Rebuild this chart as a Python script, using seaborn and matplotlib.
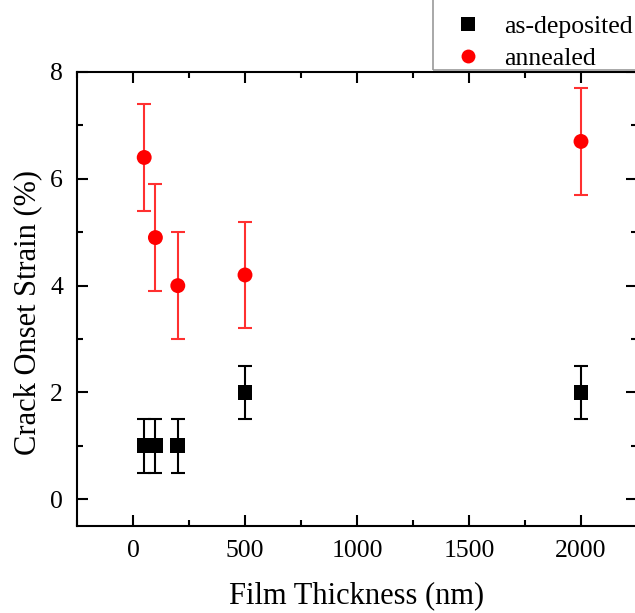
import numpy as np
import pandas as pd
import matplotlib
matplotlib.use("Agg")
import matplotlib.pyplot as plt
import seaborn as sns
from matplotlib.ticker import MultipleLocator
from matplotlib.patches import Rectangle

thickness = [50, 100, 200, 500, 2000]
as_dep = [1.0, 1.0, 1.0, 2.0, 2.0]
as_dep_err = [0.5, 0.5, 0.5, 0.5, 0.5]
annealed = [6.4, 4.9, 4.0, 4.2, 6.7]
annealed_err = [1.0, 1.0, 1.0, 1.0, 1.0]
labels = ["as-deposited", "annealed"]

sns.set_theme(style="ticks")
plt.rcParams['font.family'] = ['Liberation Serif', 'DejaVu Serif']
plt.rcParams['text.color'] = 'black'
plt.rcParams['axes.labelcolor'] = 'black'
plt.rcParams['xtick.color'] = 'black'
plt.rcParams['ytick.color'] = 'black'

df = pd.DataFrame({
    "Film Thickness (nm)": thickness * 2,
    "strain": as_dep + annealed,
    "err": as_dep_err + annealed_err,
    "state": [labels[0]] * len(thickness) + [labels[1]] * len(thickness),
})

fig = plt.figure(figsize=(6.35, 6.13), dpi=100)
ax = fig.add_axes([77/635, 1-526/613, (637-77)/635, (526-72)/613])

colors = {labels[0]: "black", labels[1]: "#ff0000"}
ecolors = {labels[0]: "black", labels[1]: "#ff3030"}
for lab in labels:
    sub = df[df.state == lab]
    ax.errorbar(sub["Film Thickness (nm)"], sub["strain"], yerr=sub["err"],
                fmt="none", ecolor=ecolors[lab], elinewidth=1.5, capsize=5,
                capthick=1.5, zorder=2)

sns.scatterplot(data=df, x="Film Thickness (nm)", y="strain", hue="state",
                style="state", markers={labels[0]: "s", labels[1]: "o"},
                palette=colors, s=115, edgecolor="none", linewidth=0,
                ax=ax, zorder=3, legend=True)

ax.set_xlim(-250, 2250)
ax.set_ylim(-0.5, 8)
ax.xaxis.set_major_locator(MultipleLocator(500))
ax.xaxis.set_minor_locator(MultipleLocator(250))
ax.yaxis.set_major_locator(MultipleLocator(2))
ax.yaxis.set_minor_locator(MultipleLocator(1))
ax.tick_params(which="both", direction="in", top=True, right=True,
               width=1.5, colors="black", labelsize=18.5, pad=10)
ax.tick_params(which="major", length=8)
ax.tick_params(which="minor", length=4)
for s in ax.spines.values():
    s.set_linewidth(1.5)
    s.set_color("black")

ax.set_xlabel("Film Thickness (nm)", fontsize=22, labelpad=14, color="black")
ax.set_ylabel("Crack Onset Strain (%)", fontsize=22, color="black")
ax.yaxis.set_label_coords(-0.063, 0.471)

handles, hl = ax.get_legend_handles_labels()
ax.get_legend().remove()
for h in handles:
    h.set_markersize(10)
leg = fig.legend(handles, hl, loc="lower left",
                 bbox_to_anchor=(433/635, 1-70/613), fontsize=18.5,
                 frameon=False, borderpad=0.0,
                 handletextpad=0.0, handlelength=2.75, labelspacing=0.36,
                 borderaxespad=0)
for t in leg.get_texts():
    t.set_color("black")

fig.add_artist(Rectangle((433/635, 1-70/613), 0.5, 0.5,
                         transform=fig.transFigure, fill=False,
                         edgecolor="#999999", linewidth=1.2, clip_on=False))

fig.savefig("out.png", dpi=100)
